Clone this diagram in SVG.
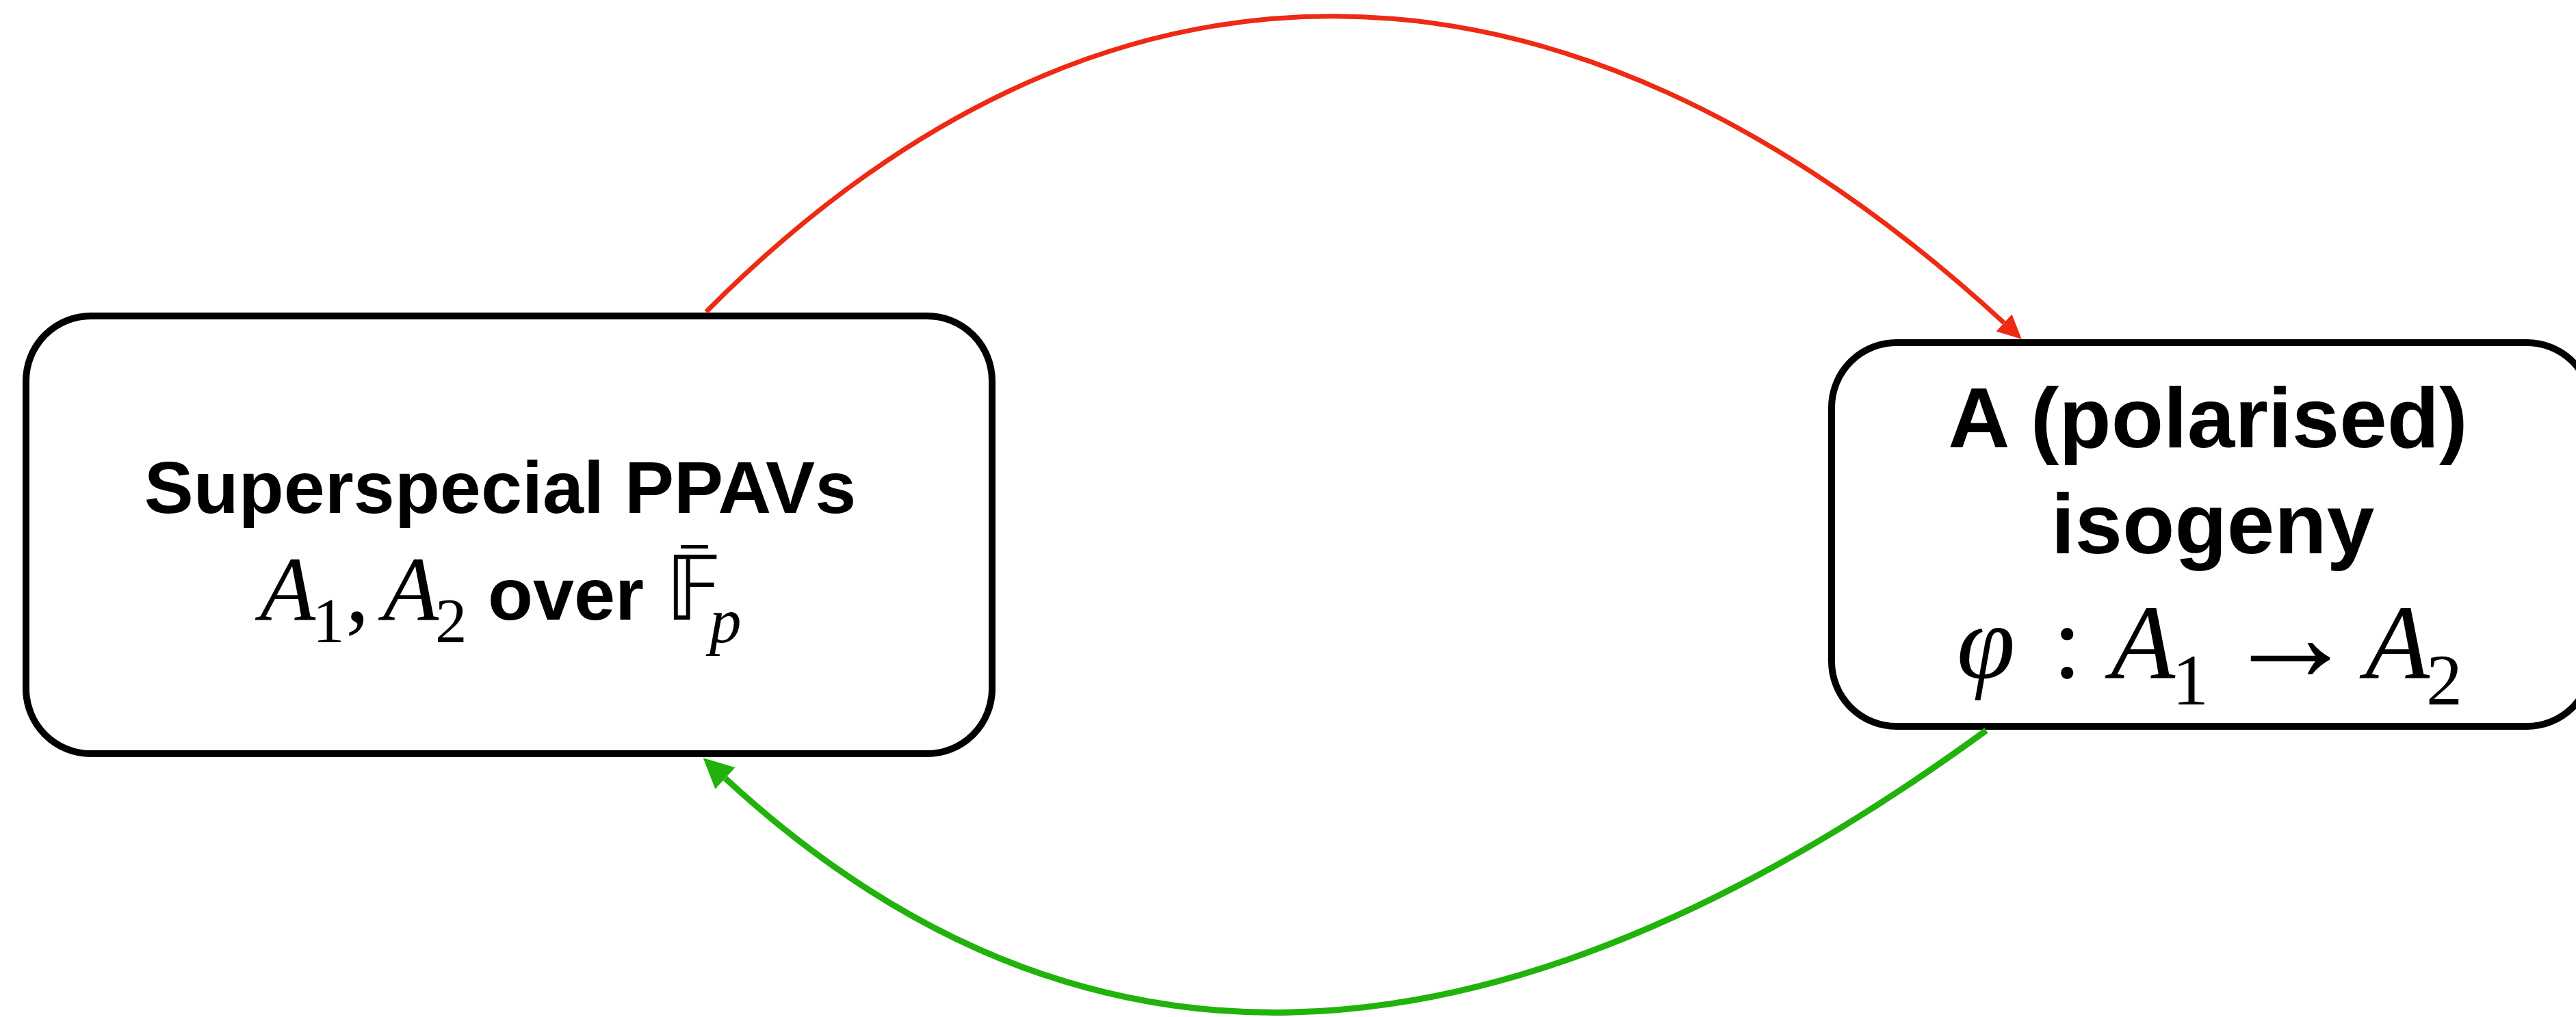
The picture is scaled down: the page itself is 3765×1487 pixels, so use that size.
<svg xmlns="http://www.w3.org/2000/svg" width="3765" height="1487" viewBox="0 0 3765 1487">
<style>
.box{fill:#fff;stroke:#000;stroke-width:10}
.sans{font-family:"Liberation Sans",Arial,sans-serif;font-weight:bold;fill:#000}
.math{font-family:"Liberation Serif","Times New Roman",serif;font-style:italic;fill:#000}
.rm{font-family:"Liberation Serif","Times New Roman",serif;font-style:normal;fill:#000}
.bb{font-family:"DejaVu Sans",sans-serif;fill:#000}
.red{fill:none;stroke:#EE2A14;stroke-width:7}
.green{fill:none;stroke:#22B20C;stroke-width:9}
</style>
<defs>
<marker id="ah-red" markerUnits="userSpaceOnUse" viewBox="0 0 35 34" markerWidth="35" markerHeight="34" refX="0" refY="17" orient="auto"><path d="M0,0 L35,17 L0,34 Z" fill="#EE2A14"/></marker>
<marker id="ah-green" markerUnits="userSpaceOnUse" viewBox="0 0 44 43" markerWidth="44" markerHeight="43" refX="0" refY="21.5" orient="auto"><path d="M0,0 L44,21.5 L0,43 Z" fill="#22B20C"/></marker>
</defs>
<rect x="0" y="0" width="3765" height="1487" fill="#fff"/>
<g id="node-left">
<rect class="box" x="38" y="462" width="1412" height="640" rx="95"/>
<text class="sans" x="731" y="750" font-size="108" text-anchor="middle">Superspecial PPAVs</text>
<text class="math" x="380" y="906" font-size="133">A</text>
<text class="rm" x="457" y="939" font-size="93">1</text>
<text class="rm" x="505" y="908" font-size="140">,</text>
<text class="math" x="560" y="906" font-size="133">A</text>
<text class="rm" x="636" y="939" font-size="93">2</text>
<text class="sans" x="713" y="906" font-size="108">over</text>
<text class="bb" transform="translate(973,906) scale(0.93,1)" x="0" y="0" font-size="130">𝔽</text>
<rect x="995" y="797" width="40" height="5" fill="#000"/>
<text class="math" x="1037" y="939" font-size="93">p</text>
</g>
<g id="node-right">
<rect class="box" x="2677" y="501" width="1111" height="561" rx="95"/>
<text class="sans" x="3227" y="654" font-size="125" text-anchor="middle">A (polarised)</text>
<text class="sans" x="3234" y="809" font-size="125" text-anchor="middle">isogeny</text>
<text class="math" x="2860" y="991" font-size="154">φ</text>
<text class="rm" x="3000" y="991" font-size="154">:</text>
<text class="math" x="3085" y="991" font-size="154">A</text>
<text class="rm" x="3175" y="1030" font-size="106">1</text>
<text class="rm" x="3250" y="995" font-size="195">→</text>
<text class="math" x="3457" y="991" font-size="154">A</text>
<text class="rm" x="3546" y="1030" font-size="106">2</text>
</g>
<g id="connectors">
<path class="red" d="M1032,456 C1602,-118 2277,-128 2929,472" marker-end="url(#ah-red)"/>
<path class="green" d="M2903,1068 C2149,1618 1554,1594 1060,1138" marker-end="url(#ah-green)"/>
</g>
</svg>
